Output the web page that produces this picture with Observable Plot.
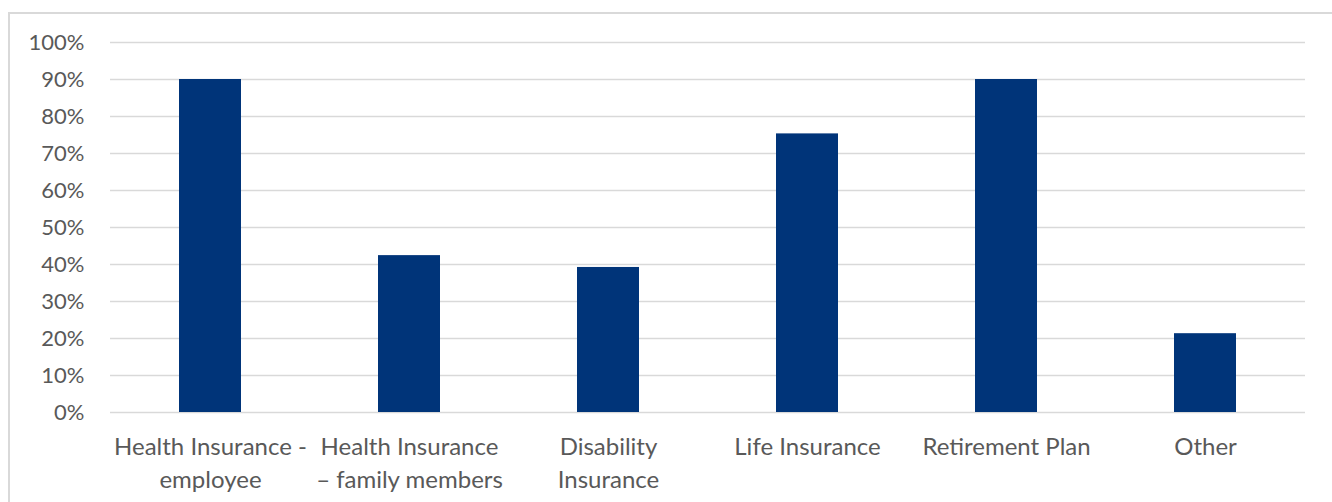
<!DOCTYPE html>
<html>
<head>
<meta charset="utf-8">
<script src="https://cdn.jsdelivr.net/npm/d3@7"></script>
<script src="https://cdn.jsdelivr.net/npm/@observablehq/plot@0.6"></script>
<style>
  html, body { margin: 0; padding: 0; background: #fff; overflow: hidden; }
  #frame { position: absolute; left: 8px; top: 12px; width: 1400px; height: 600px;
           border-top: 2px solid #d9d9d9; border-left: 2px solid #d9d9d9; }
  #chart { position: absolute; left: 0; top: 0; }
</style>
</head>
<body>
<div id="frame"></div>
<div id="chart"></div>
<script>
const categories = [
  "Health Insurance -\nemployee",
  "Health Insurance\n– family members",
  "Disability\nInsurance",
  "Life Insurance",
  "Retirement Plan",
  "Other"
];
const values = [0.90, 0.424, 0.392, 0.753, 0.90, 0.213];
const yTicks = [0, 0.1, 0.2, 0.3, 0.4, 0.5, 0.6, 0.7, 0.8, 0.9, 1.0];

const data = categories.map((c, i) => ({ category: c, value: values[i] }));

const chart = Plot.plot({
  width: 1332,
  height: 502,
  marginLeft: 110,
  marginRight: 27,
  marginTop: 42,
  marginBottom: 90,
  style: { fontFamily: "Lato, sans-serif", fontSize: "22px", color: "#595959", background: "transparent" },
  x: { domain: categories, paddingInner: 0.69, paddingOuter: 0.345, label: null },
  y: { domain: [0, 1], label: null },
  marks: [
    Plot.gridY(yTicks, { stroke: "#d9d9d9", strokeOpacity: 1, strokeWidth: 1.6 }),
    Plot.barY(data, { x: "category", y: "value", fill: "#003479" }),
    Plot.axisY(yTicks, { tickSize: 0, tickPadding: 26, tickFormat: d3.format(".0%"), fill: "#595959", fontSize: 22, label: null }),
    Plot.axisX({ tickSize: 0, tickPadding: 19, lineHeight: 1.375, fill: "#595959", fontSize: 24, label: null, textOverflow: null })
  ]
});
document.getElementById("chart").appendChild(chart);
</script>
</body>
</html>
